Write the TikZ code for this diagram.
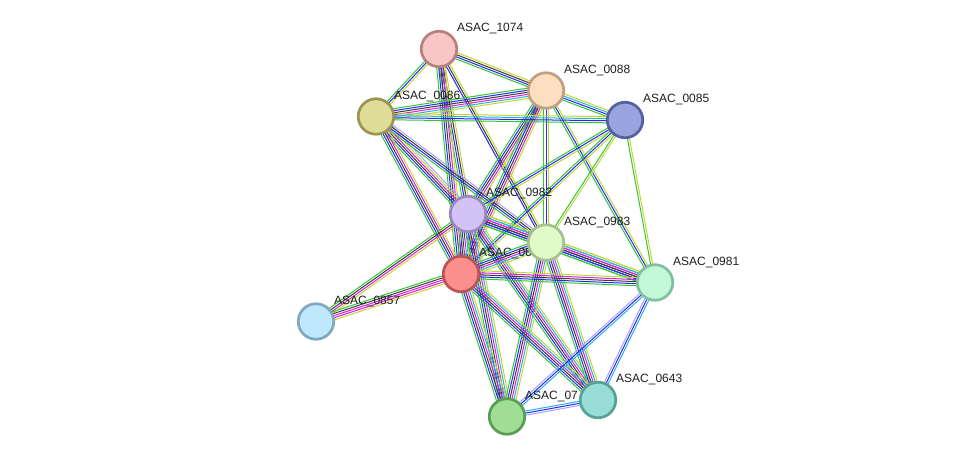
\documentclass[tikz,border=0pt]{standalone}
\usepackage{fontspec}
\setmainfont{Liberation Sans}
\usetikzlibrary{calc}
\pgfdeclarelayer{bg}
\pgfdeclarelayer{edges}
\pgfdeclarelayer{labels}
\pgfsetlayers{bg,edges,labels,main}
\definecolor{eg}{RGB}{50,200,50}
\definecolor{eb}{RGB}{40,40,255}
\definecolor{ek}{RGB}{60,60,60}
\definecolor{em}{RGB}{220,30,220}
\definecolor{ec}{RGB}{40,180,220}
\definecolor{ey}{RGB}{195,215,50}
\definecolor{el}{RGB}{165,165,255}
\newcommand\medge[3]{%
  \foreach \cc [count=\ii] in {#3} {\xdef\ncount{\ii}}%
  \foreach \cc [count=\ii] in {#3} {%
    \pgfmathsetmacro\off{(\ii-(\ncount+1)/2)*2.05}%
    \draw[edgeline, draw=\cc] ($(#1.center)!\off pt!90:(#2.center)$) -- ($(#2.center)!\off pt!-90:(#1.center)$);
  }%
}
\tikzset{
  prot/.style={circle, minimum size=35.5pt, inner sep=0pt, line width=2.7pt},
  edgeline/.style={line width=1pt},
  lbl/.style={anchor=base west, inner sep=0pt, text=black!88, font=\fontsize{12}{14}\selectfont}
}
\begin{document}
\begin{tikzpicture}[x=1pt,y=-1pt]
\begin{pgfonlayer}{bg}
\fill[white] (0,0) rectangle (975,462);
\end{pgfonlayer}
\useasboundingbox (0,0) rectangle (975,462);
% nodes
\node[prot, fill={rgb,255:red,248;green,198;blue,198}, draw={rgb,255:red,185;green,128;blue,128}] (n1074) at (439,49) {};
\node[prot, fill={rgb,255:red,253;green,222;blue,192}, draw={rgb,255:red,192;green,160;blue,128}] (n0088) at (546,90.5) {};
\node[prot, fill={rgb,255:red,222;green,220;blue,150}, draw={rgb,255:red,154;green,149;blue,85}] (n0086) at (376,116.5) {};
\node[prot, fill={rgb,255:red,153;green,163;blue,221}, draw={rgb,255:red,85;green,96;blue,160}] (n0085) at (625,120) {};
\node[prot, fill={rgb,255:red,211;green,195;blue,245}, draw={rgb,255:red,150;green,136;blue,192}] (n0982) at (468,214) {};
\node[prot, fill={rgb,255:red,224;green,251;blue,199}, draw={rgb,255:red,168;green,192;blue,144}] (n0983) at (546,242.5) {};
\node[prot, fill={rgb,255:red,252;green,142;blue,142}, draw={rgb,255:red,184;green,85;blue,85}] (n06) at (461,274) {};
\node[prot, fill={rgb,255:red,194;green,248;blue,216}, draw={rgb,255:red,128;green,192;blue,160}] (n0981) at (655,282.5) {};
\node[prot, fill={rgb,255:red,192;green,232;blue,252}, draw={rgb,255:red,128;green,168;blue,192}] (n0857) at (316,321.5) {};
\node[prot, fill={rgb,255:red,152;green,221;blue,214}, draw={rgb,255:red,88;green,160;blue,152}] (n0643) at (598,400) {};
\node[prot, fill={rgb,255:red,160;green,222;blue,150}, draw={rgb,255:red,90;green,158;blue,85}] (n07) at (507,416.5) {};
% edges
\begin{pgfonlayer}{edges}
\medge{n1074}{n0088}{eg,eb,ek,ey}
\medge{n1074}{n0086}{eg,eb,ey}
\medge{n1074}{n0982}{eg,eb,ek,ey}
\medge{n1074}{n06}{eg,eb,ek,em,ey}
\medge{n1074}{n0983}{eb,ek,ey}
\medge{n0088}{n0086}{eg,eb,ek,em,ec,ey}
\medge{n0088}{n0085}{eg,eb,ec,ey}
\medge{n0088}{n0982}{eg,eb,ek,em,ey}
\medge{n0088}{n06}{eg,eb,ek,em,ey}
\medge{n0088}{n0983}{eg,eb,ey}
\medge{n0088}{n0981}{eg,eb,ey}
\medge{n0086}{n0085}{eg,eb,ec,ey}
\medge{n0086}{n0982}{eg,eb,ek,em,ey,el}
\medge{n0086}{n0983}{eg,eb,ek,el}
\medge{n0086}{n06}{eg,eb,ek,em,ey}
\medge{n0085}{n0982}{eg,eb,ey}
\medge{n0085}{n0983}{eg,ey}
\medge{n0085}{n06}{eg,eb,ey}
\medge{n0085}{n0981}{eg,ey}
\medge{n0982}{n0983}{eg,eb,ek,em,ec,ey}
\medge{n0982}{n06}{eg,eb,ek,em,ec,ey}
\medge{n0982}{n0981}{eg,eb,ek,em,ec,ey}
\medge{n0982}{n0857}{eg,ek,em,ey}
\medge{n0982}{n0643}{eg,eb,ek,em,ec,ey}
\medge{n0982}{n07}{eg,eb,ek,em,ec,ey}
\medge{n0983}{n06}{eg,eb,ek,em,ec,ey}
\medge{n0983}{n0981}{eg,eb,ek,em,ec,ey}
\medge{n0983}{n0643}{eg,eb,ek,em,ec,ey}
\medge{n0983}{n07}{eg,eb,ek,em,ec,ey}
\medge{n06}{n0981}{eg,eb,ek,em,ey}
\medge{n06}{n0857}{eg,ek,em,em,ey}
\medge{n06}{n0643}{eg,eb,ek,em,ec,ey}
\medge{n06}{n07}{eg,eb,ek,em,ec,ey}
\medge{n0981}{n0643}{el,eb,ec}
\medge{n0981}{n07}{el,eb,ec}
\medge{n07}{n0643}{el,eb,ec}
\end{pgfonlayer}
% labels
\begin{pgfonlayer}{labels}
\node[lbl] (l1074) at ($(n1074.center)+(18,-17)$) {ASAC\_1074};
\node[lbl] (l0088) at ($(n0088.center)+(18,-17)$) {ASAC\_0088};
\node[lbl] (l0086) at ($(n0086.center)+(18,-17)$) {ASAC\_0086};
\node[lbl] (l0085) at ($(n0085.center)+(18,-17)$) {ASAC\_0085};
\node[lbl] (l0982) at ($(n0982.center)+(18,-17)$) {ASAC\_0982};
\node[lbl] (l0983) at ($(n0983.center)+(18,-17)$) {ASAC\_0983};
\node[lbl] (l06) at ($(n06.center)+(18,-17)$) {ASAC\_06};
\node[lbl] (l0981) at ($(n0981.center)+(18,-17)$) {ASAC\_0981};
\node[lbl] (l0857) at ($(n0857.center)+(18,-17)$) {ASAC\_0857};
\node[lbl] (l0643) at ($(n0643.center)+(18,-17)$) {ASAC\_0643};
\node[lbl] (l07) at ($(n07.center)+(18,-17)$) {ASAC\_07};
\end{pgfonlayer}
\end{tikzpicture}
\end{document}
